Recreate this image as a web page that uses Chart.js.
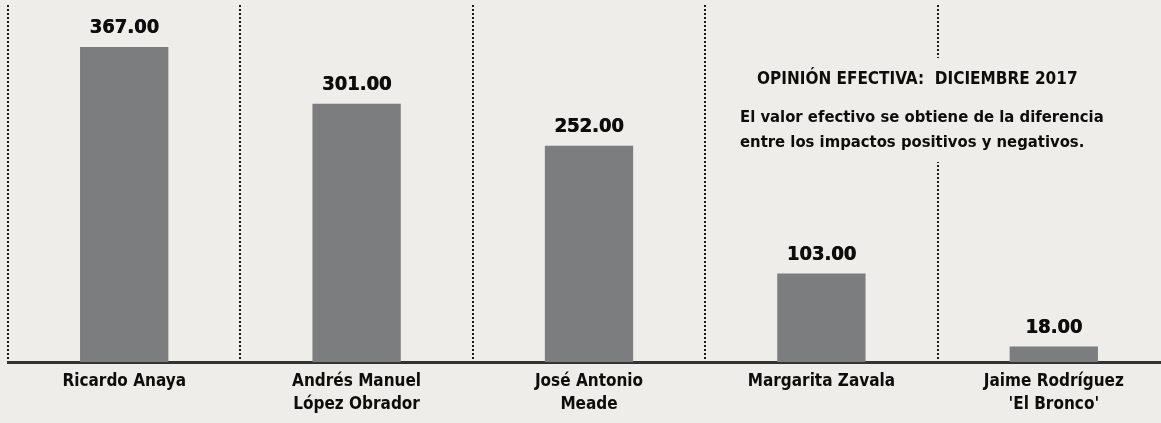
<!DOCTYPE html>
<html>
<head>
<meta charset="utf-8">
<script src="https://cdn.jsdelivr.net/npm/chart.js@4/dist/chart.umd.min.js"></script>
<style>
    html, body { margin: 0; padding: 0; background: #eeedea; overflow: hidden; }
    #caja { position: relative; width: 1170px; height: 423px; }
</style>
</head>
<body>
<div id="caja"><canvas id="graficoOpinion"></canvas></div>
<script>
var candidatos = [
    ['Ricardo Anaya'],
    ['Andrés Manuel', 'López Obrador'],
    ['José Antonio', 'Meade'],
    ['Margarita Zavala'],
    ['Jaime Rodríguez', '\'El Bronco\'']
];
var valores = [367, 301, 252, 103, 18];
var tituloNota = 'OPINIÓN EFECTIVA:  DICIEMBRE 2017';
var textoNota = ['El valor efectivo se obtiene de la diferencia', 'entre los impactos positivos y negativos.'];

var fuente = '"DejaVu Sans Condensed", "Liberation Sans Narrow", sans-serif';

// etiquetas de valor encima de cada barra
var etiquetasValor = {
    id: 'etiquetasValor',
    afterDatasetsDraw: function (chart) {
        var ctx = chart.ctx;
        var meta = chart.getDatasetMeta(0);
        ctx.save();
        ctx.font = 'bold 20px ' + fuente;
        ctx.fillStyle = '#0d0d0d';
        ctx.textAlign = 'center';
        ctx.textBaseline = 'middle';
        meta.data.forEach(function (barra, i) {
            var texto = valores[i].toFixed(2);
            ctx.fillText(texto, barra.x, barra.y - 19);
            ctx.fillText(texto, barra.x + 0.6, barra.y - 19);
        });
        ctx.restore();
    }
};

// nota con fondo que tapa la linea punteada
var nota = {
    id: 'nota',
    afterDraw: function (chart) {
        var ctx = chart.ctx;
        ctx.save();
        ctx.fillStyle = '#eeedea';
        ctx.fillRect(725, 58, 400, 104);
        ctx.fillStyle = '#0d0d0d';
        ctx.textBaseline = 'middle';
        ctx.textAlign = 'left';
        ctx.font = 'bold 17px ' + fuente;
        ctx.fillText(tituloNota, 757, 80);
        ctx.font = 'bold 16.5px ' + fuente;
        ctx.fillText(textoNota[0], 740, 118);
        ctx.fillText(textoNota[1], 740, 143);
        ctx.restore();
    }
};

var ctx = document.getElementById('graficoOpinion').getContext('2d');

new Chart(ctx, {
    type: 'bar',
    data: {
        labels: candidatos,
        datasets: [{
            data: valores,
            backgroundColor: '#7b7d7e',
            categoryPercentage: 1,
            barPercentage: 0.38
        }]
    },
    options: {
        responsive: true,
        maintainAspectRatio: false,
        animation: false,
        layout: { padding: { left: 8, right: 0, top: 5, bottom: 0 } },
        plugins: {
            legend: { display: false },
            tooltip: { enabled: false }
        },
        scales: {
            x: {
                offset: true,
                grid: {
                    offset: true,
                    drawTicks: false,
                    color: '#1a1a1a',
                    lineWidth: 2
                },
                border: { display: true, color: '#333', width: 3, dash: [2, 2] },
                ticks: {
                    color: '#0d0d0d',
                    padding: 8,
                    font: { family: fuente, size: 17, weight: 'bold', lineHeight: 1.35 }
                },
                afterFit: function (scale) { scale.height = 61; }
            },
            y: {
                display: false,
                min: 0,
                max: 416
            }
        }
    },
    plugins: [etiquetasValor, nota]
});
</script>
</body>
</html>
